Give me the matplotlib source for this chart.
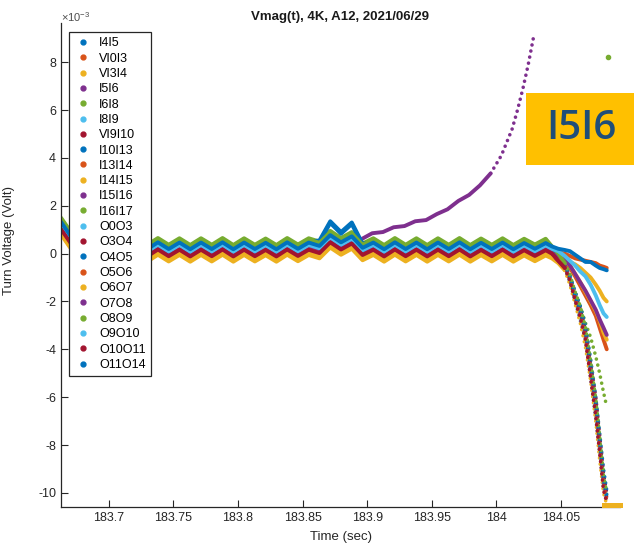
import numpy as np
import matplotlib
matplotlib.use("Agg")
import matplotlib.pyplot as plt
from matplotlib.lines import Line2D
from matplotlib.patches import Rectangle

plt.rcParams['font.family'] = ['Liberation Sans', 'DejaVu Sans']
plt.rcParams['mathtext.fontset'] = 'custom'
plt.rcParams['mathtext.rm'] = 'Liberation Sans'
plt.rcParams['axes.unicode_minus'] = False

# series names (legend order) and their level in the flat part (x1e-3 V)
names = ['I4I5', 'VI0I3', 'VI3I4', 'I5I6', 'I6I8', 'I8I9', 'VI9I10', 'I10I13',
         'I13I14', 'I14I15', 'I15I16', 'I16I17', 'O0O3', 'O3O4', 'O4O5', 'O5O6',
         'O6O7', 'O7O8', 'O8O9', 'O9O10', 'O10O11', 'O11O14']
offsets = [0.30, 0.12, -0.15, 0.22, 0.50, 0.25, 0.05, 0.35,
           0.10, -0.20, 0.15, 0.00, 0.20, 0.08, 0.28, 0.14,
           -0.10, 0.18, 0.45, 0.22, 0.02, 0.32]

# sample times of the ripple (one per half period) and the common ripple
t_start = 183.6629
half_period = 0.00834
ripple = [1.0, 0.35, -0.12, 0.14, -0.13, 0.15, -0.14, 0.13, -0.14, 0.15,
          -0.13, 0.14, -0.14, 0.14, -0.13, 0.15, -0.14, 0.14, -0.13, 0.13,
          -0.14, 0.15, -0.12, 0.14, 0.0, 0.45, 0.15, 0.40, -0.08, 0.14,
          -0.14, 0.15, -0.13, 0.14, -0.14, 0.14, -0.13, 0.15, -0.14, 0.13,
          -0.13, 0.14, -0.14, 0.12, -0.12, 0.12]

# extra hump seen on two blue traces around 183.87-183.89 s
bump_names = ['I10I13', 'O4O5']
bump_k = [24, 25, 26, 27, 28]
bump_v = [0.2, 0.55, 0.4, 0.55, 0.15]

# end of the run: quench
tail_t = [184.043, 184.048, 184.053, 184.057, 184.061, 184.065,
          184.069, 184.073, 184.077, 184.080, 184.083, 184.0855]
tails = [
    [0.1, -0.2, -0.5, -1.1, -1.9, -2.6, -3.5, -5.0, -6.6, -8.1, -9.6, -10.2],       # I4I5
    [0.15, 0.05, 0.0, -0.1, -0.2, -0.25, -0.3, -0.35, -0.4, -0.5, -0.55, -0.6],     # VI0I3
    [-0.15, -0.25, -0.3, -0.35, -0.45, -0.6, -0.8, -1.0, -1.3, -1.55, -1.85, -2.0], # VI3I4
    None,                                                                          # I5I6
    [0.3, 0.0, -0.5, -1.0, -1.6, -2.2, -2.9, -3.5, -4.3, -5.0, -5.8, -6.4],         # I6I8
    [0.0, -0.3, -0.6, -1.2, -2.0, -2.8, -3.6, -5.2, -6.9, -8.3, -9.8, -10.3],       # I8I9
    [-0.05, -0.3, -0.55, -1.0, -1.7, -2.3, -3.2, -4.6, -6.0, -7.6, -9.2, -10.0],    # VI9I10
    [0.05, -0.25, -0.5, -0.9, -1.6, -2.2, -3.0, -4.4, -6.0, -7.5, -9.0, -9.9],      # I10I13
    [-0.1, -0.2, -0.35, -0.6, -0.95, -1.35, -1.75, -2.15, -2.6, -3.1, -3.6, -4.0],  # I13I14
    [-0.2, -0.4, -0.7, -1.3, -2.1, -2.9, -3.9, -5.3, -7.0, -8.6, -10.0, -10.5],     # I14I15
    [0.0, -0.3, -0.55, -1.1, -1.9, -2.5, -3.4, -4.9, -6.4, -8.0, -9.6, -10.2],      # I15I16
    [0.05, -0.2, -0.45, -0.9, -1.7, -2.3, -3.1, -4.5, -6.1, -7.7, -9.3, -10.1],     # I16I17
    [0.1, -0.2, -0.5, -1.0, -1.8, -2.5, -3.4, -4.9, -6.5, -8.0, -9.7, -10.3],       # O0O3
    [0.0, -0.25, -0.5, -1.05, -1.85, -2.45, -3.3, -4.8, -6.3, -7.9, -9.5, -10.2],   # O3O4
    [0.1, -0.15, -0.45, -0.95, -1.75, -2.35, -3.2, -4.7, -6.2, -7.8, -9.4, -10.1],  # O4O5
    [0.0, -0.3, -0.6, -1.1, -1.9, -2.6, -3.5, -5.1, -6.7, -8.2, -9.7, -10.3],       # O5O6
    [-0.1, -0.2, -0.3, -0.5, -0.85, -1.2, -1.6, -2.0, -2.4, -2.8, -3.3, -3.6],      # O6O7
    [0.0, -0.1, -0.25, -0.5, -0.85, -1.2, -1.55, -1.95, -2.35, -2.75, -3.1, -3.4],  # O7O8
    [0.3, 0.0, -0.4, -0.9, -1.6, -2.2, -3.1, -4.6, -6.1, -7.7, -9.3, -10.0],        # O8O9
    [0.2, 0.1, -0.1, -0.3, -0.5, -0.75, -0.95, -1.3, -1.75, -2.15, -2.5, -2.65],    # O9O10
    [0.0, -0.3, -0.6, -1.15, -1.95, -2.7, -3.6, -5.2, -6.8, -8.3, -9.9, -10.4],     # O10O11
    [0.3, 0.2, 0.15, 0.1, -0.05, -0.2, -0.35, -0.35, -0.5, -0.6, -0.65, -0.7],      # O11O14
]

# I5I6 runs away upward
i5i6_k_end = 28
i5i6_t = [183.8955, 183.9039, 183.9122, 183.9205, 183.9289, 183.9372, 183.9456,
          183.9539, 183.9622, 183.9706, 183.9789, 183.9873, 183.9956, 184.0039,
          184.0122, 184.0164, 184.0206, 184.0247, 184.029]
i5i6_v = [0.6, 0.85, 0.9, 1.1, 1.15, 1.35, 1.4, 1.65, 1.85, 2.2, 2.45, 2.85, 3.35,
          4.1, 5.2, 6.0, 6.9, 7.9, 9.1]

# I14I15 sits at the bottom of the range, I6I8 has one point far up
floor_t = [184.0835, 184.0955]
floor_v = [-10.5, -10.5]
spike_t = [184.0862]
spike_v = [8.2]

xticks = [183.7, 183.75, 183.8, 183.85, 183.9, 183.95, 184.0, 184.05]
xtick_labels = ['183.7', '183.75', '183.8', '183.85', '183.9', '183.95', '184', '184.05']
yticks = [-10, -8, -6, -4, -2, 0, 2, 4, 6, 8]

colors = ['#0072BD', '#D95319', '#EDB120', '#7E2F8E', '#77AC30', '#4DBEEE', '#A2142F']

fig = plt.figure(figsize=(6.34, 5.51), dpi=100)
ax = fig.add_axes([0.0962, 0.0799, 0.8818, 0.8781])

knot_t = t_start + half_period * np.arange(len(ripple))
rip = np.array(ripple)
lw = 2.8
dots = (0, (0.01, 1.7))

for i, name in enumerate(names):
    c = colors[i % 7]
    base = offsets[i] + rip.copy()
    if name in bump_names:
        base[bump_k] += bump_v
    if name == 'I5I6':
        t = np.concatenate([knot_t[:i5i6_k_end], i5i6_t])
        v = np.concatenate([base[:i5i6_k_end], i5i6_v])
        split = np.searchsorted(t, 184.0)
    else:
        t = np.concatenate([knot_t, tail_t])
        v = np.concatenate([base, tails[i]])
        split = len(knot_t) + 3 if min(tails[i]) < -5 else len(t)
    ax.plot(t[:split], v[:split], color=c, lw=lw, solid_capstyle='round',
            solid_joinstyle='round', zorder=2 + i * 0.01)
    if split < len(t):
        ax.plot(t[split - 1:], v[split - 1:], color=c, lw=2.6, ls=dots,
                dash_capstyle='round', zorder=2 + i * 0.01)
    if name == 'I14I15':
        ax.plot(floor_t, floor_v, color=c, lw=3.6, clip_on=False, zorder=3)
    if name == 'I6I8':
        ax.plot(spike_t, spike_v, '.', color=c, ms=6)

ax.set_xlim(183.6629, 184.0958)
ax.set_ylim(-10.59, 9.63)
ax.set_xticks(xticks)
ax.set_xticklabels(xtick_labels)
ax.set_yticks(yticks)
for s in ['top', 'right']:
    ax.spines[s].set_visible(False)
for s in ['left', 'bottom']:
    ax.spines[s].set_color('0.15')
    ax.spines[s].set_linewidth(0.9)
ax.tick_params(direction='in', length=5, width=0.8, colors='0.15', labelsize=9)
ax.set_xlabel('Time (sec)', fontsize=9.5, color='0.15', labelpad=5)
ax.set_ylabel('Turn Voltage (Volt)', fontsize=9.5, color='0.15')
ax.yaxis.set_label_coords(-0.082, 0.55)
fig.text(340 / 634, 1 - 17 / 551, 'Vmag(t), 4K, A12, 2021/06/29', ha='center', va='center',
         fontsize=9.5, fontweight='bold', color='0.1')
fig.text(61 / 634, 1 - 17 / 551, r'$\times10^{-3}$', ha='left', va='center', fontsize=8, color='0.3')

handles = [Line2D([], [], ls='', marker='.', ms=7, color=colors[i % 7]) for i in range(len(names))]
leg = ax.legend(handles, names, loc='upper left', bbox_to_anchor=(0.0143, 0.981), fontsize=9,
                frameon=True, fancybox=False, edgecolor='0.15', framealpha=1,
                labelspacing=0.265, handlelength=1.5, handletextpad=0.5, borderpad=0.4,
                borderaxespad=0)
leg.get_frame().set_linewidth(0.9)
leg.set_zorder(10)

# highlight tag
fig.patches.append(Rectangle((526 / 634, 1 - 165 / 551), 108 / 634, 72.3 / 551,
                             transform=fig.transFigure, facecolor='#FFC000', edgecolor='none'))
fig.text(581 / 634, 1 - 129 / 551, 'I5I6', ha='center', va='center', fontsize=29,
         color='#1F4E79', family=['Open Sans', 'DejaVu Sans'], fontweight='semibold')

fig.savefig('out.png', dpi=100)
